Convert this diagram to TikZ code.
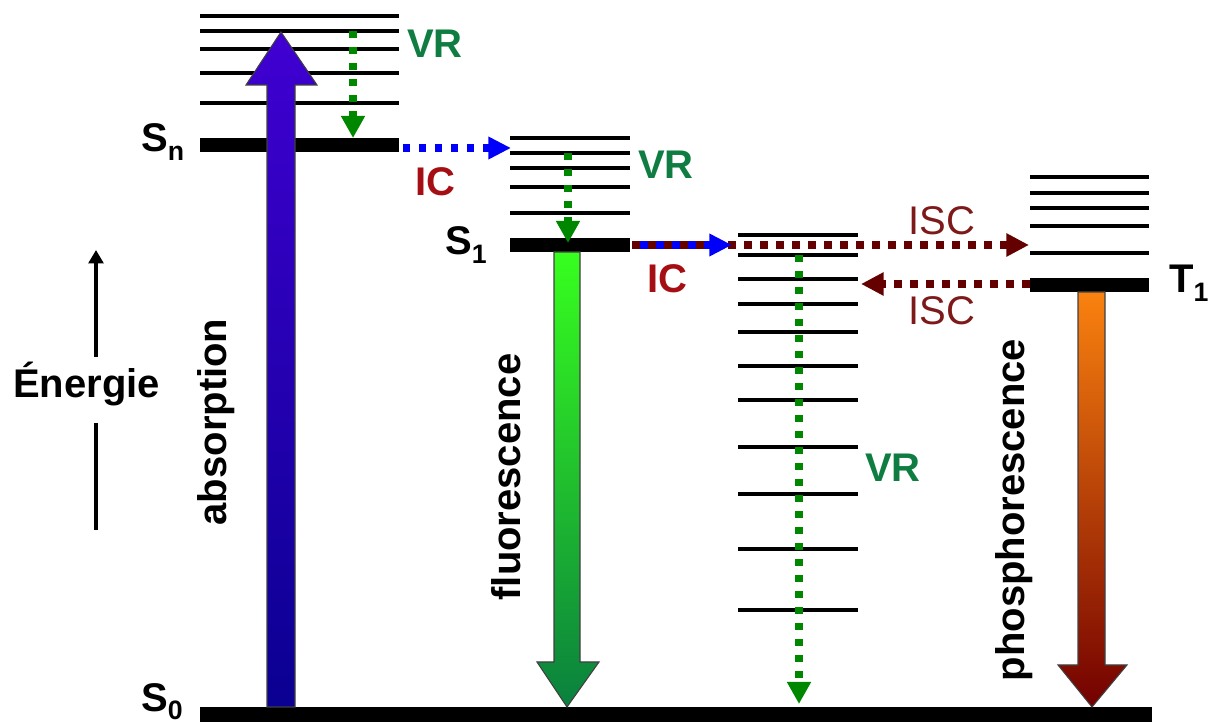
\documentclass[tikz,border=0pt]{standalone}
\usepackage{fontspec}
\setmainfont{Liberation Sans}
\usepackage{xcolor}
\usepackage{tikz}
\usetikzlibrary{arrows.meta}

\definecolor{vrtext}{RGB}{15,125,65}
\definecolor{vrdots}{RGB}{0,135,0}
\definecolor{ictext}{RGB}{165,15,20}
\definecolor{isctext}{RGB}{125,25,25}
\definecolor{iscdots}{RGB}{100,0,0}
\definecolor{icdots}{RGB}{0,0,250}
\definecolor{absTop}{RGB}{64,0,210}
\definecolor{absBot}{RGB}{10,0,145}
\definecolor{fluTop}{RGB}{55,255,30}
\definecolor{fluBot}{RGB}{10,128,62}
\definecolor{phoTop}{RGB}{250,130,15}
\definecolor{phoBot}{RGB}{115,0,0}

\newcommand{\lvsub}[1]{\raisebox{-6.5pt}{\fontsize{20}{24}\selectfont #1}}

\begin{document}
\begin{tikzpicture}[
  x=0.75pt, y=-0.75pt,
  lvl/.style={line width=3.2pt},
  lvlmain/.style={line width=10.5pt},
  lbl/.style={inner sep=0pt, font=\fontsize{30}{36}\selectfont\bfseries},
  lblthin/.style={inner sep=0pt, font=\fontsize{30}{36}\selectfont},
  bigarrow/.style={draw=black!75, line width=0.8pt},
  vrdot/.style={vrdots, line width=5.6pt, dash pattern=on 5.2pt off 6.8pt,
    -{Triangle[width=17pt, length=16.5pt]}},
  icdot/.style={icdots, line width=6pt, dash pattern=on 5.2pt off 6.8pt,
    -{Triangle[width=16pt, length=17pt]}},
  iscdot/.style={iscdots, line width=5.5pt, dash pattern=on 6pt off 6pt,
    -{Triangle[width=16.5pt, length=17pt]}}
]
  \useasboundingbox (0,0) rectangle (1208,723);

  % levels
  \foreach \y in {16,31,49,73,103} \draw[lvl] (200,\y) -- (399,\y);
  \draw[lvlmain] (200,145) -- (399,145);
  \foreach \y in {138,153,168,187,213} \draw[lvl] (510,\y) -- (630,\y);
  \draw[lvlmain] (510,245.5) -- (630,245.5);
  \foreach \y in {235,255,279,304,332,366,400,447,494,549,610} \draw[lvl] (738,\y) -- (858,\y);
  \foreach \y in {177,193,208,226,253} \draw[lvl] (1030,\y) -- (1149,\y);
  \draw[lvlmain] (1030,285.5) -- (1149,285.5);
  \draw[line width=11pt] (200,714.5) -- (1152,714.5);

  \node[lbl, anchor=base west] (Sn) at (141,152) {S\lvsub{n}};
  \node[lbl, anchor=base west] (S1) at (445,255) {S\lvsub{1}};
  \node[lbl, anchor=base west] (S0) at (141,711) {S\lvsub{0}};
  \node[lbl, anchor=base west] (T1) at (1169,293) {T\lvsub{1}};

  % radiative transitions
  \shade[bigarrow, top color=absTop, bottom color=absBot]
    (267,707) -- (267,85) -- (246,85) -- (281,32) -- (317,85) -- (295,85) -- (295,707) -- cycle;
  \shade[bigarrow, top color=fluTop, bottom color=fluBot]
    (554,252) -- (554,662) -- (537,662) -- (567,707) -- (599,662) -- (580,662) -- (580,252) -- cycle;
  \shade[bigarrow, top color=phoTop, bottom color=phoBot]
    (1078,292) -- (1078,665) -- (1058,665) -- (1092,707) -- (1127,665) -- (1105,665) -- (1105,292) -- cycle;

  \node[lbl, rotate=90, anchor=base] (absorption) at (226,422) {absorption};
  \node[lbl, rotate=90, anchor=base] (fluorescence) at (520,477) {fluorescence};
  \node[lbl, rotate=90, anchor=base] (phosphorescence) at (1024,510) {phosphorescence};

  % non-radiative transitions
  \coordinate (vrA1) at (353,31);   \coordinate (vrA2) at (353,138);
  \coordinate (vrB1) at (568,153);  \coordinate (vrB2) at (568,243);
  \coordinate (vrC1) at (799,255);  \coordinate (vrC2) at (799,704);
  \coordinate (icA1) at (403,148);  \coordinate (icA2) at (511,148);
  \coordinate (icB1) at (632,245);  \coordinate (icB2) at (732,245);
  \coordinate (iscA2) at (1029,245);
  \coordinate (iscB1) at (1030,284); \coordinate (iscB2) at (861,284);

  \draw[vrdot] (vrA1) -- (vrA2);
  \draw[vrdot] (vrB1) -- (vrB2);
  \draw[vrdot] (vrC1) -- (vrC2);
  \draw[icdot] (icA1) -- (icA2);
  \draw[iscdot] (icB1) -- (iscA2);
  \draw[icdot, dash pattern=on 6pt off 6pt, dash phase=6pt] (icB1) -- (icB2);
  \draw[iscdot] (iscB1) -- (iscB2);

  \node[lbl, vrtext, anchor=base west] (vrA) at (407,58) {VR};
  \node[lbl, vrtext, anchor=base west] (vrB) at (638,179) {VR};
  \node[lbl, vrtext, anchor=base west] (vrC) at (865,482) {VR};
  \node[lbl, ictext, anchor=base west] (icA) at (415,196) {IC};
  \node[lbl, ictext, anchor=base west] (icB) at (647,293) {IC};
  \node[lblthin, isctext, anchor=base west] (iscA) at (908,235) {ISC};
  \node[lblthin, isctext, anchor=base west] (iscB) at (908,325) {ISC};

  % energy axis
  \node[lbl, anchor=base west] (energie) at (13,398) {Énergie};
  \coordinate (eTop) at (96,250);  \coordinate (eUp) at (96,357);
  \coordinate (eLow) at (96,423);  \coordinate (eBot) at (96,530);
  \draw[line width=3pt, -{Triangle[width=11pt, length=10pt]}] (eUp) -- (eTop);
  \draw[line width=3pt] (eLow) -- (eBot);
\end{tikzpicture}
\end{document}
